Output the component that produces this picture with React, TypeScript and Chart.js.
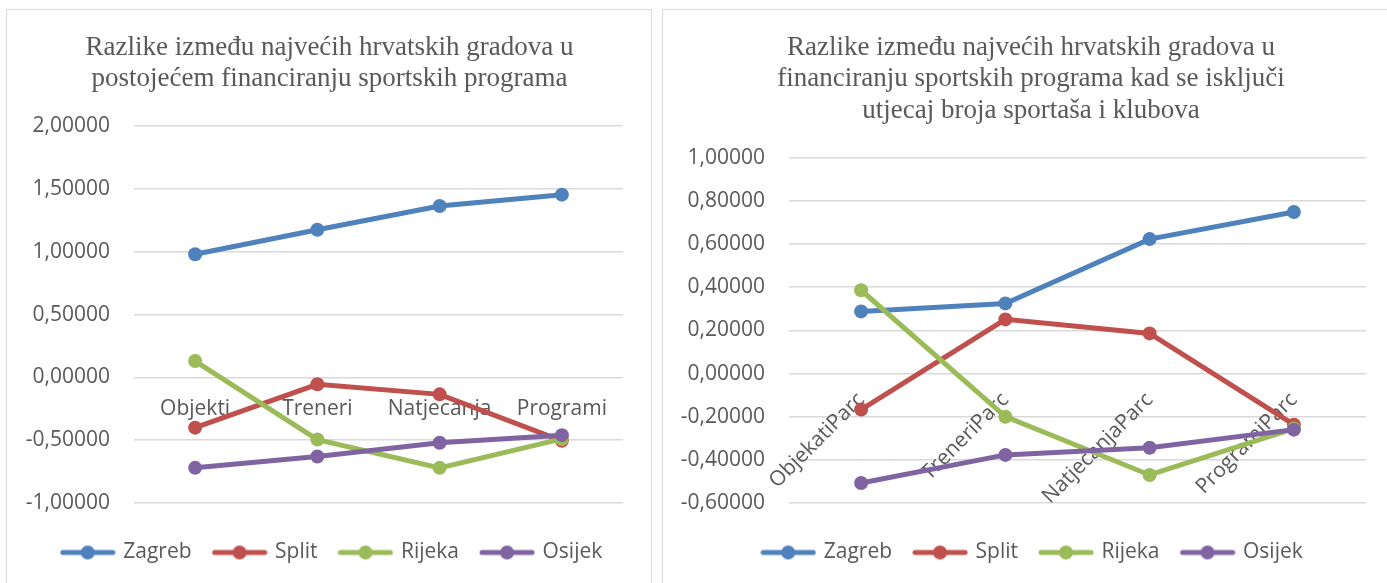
import React, { useEffect, useRef } from "react";
import { Chart, registerables } from "chart.js";

Chart.register(...registerables);

const seriesNames = ["Zagreb", "Split", "Rijeka", "Osijek"];
const seriesColors = ["#4F81BD", "#C0504D", "#9BBB59", "#8064A2"];

const leftCategories = ["Objekti", "Treneri", "Natjecanja", "Programi"];
const leftZagreb = [0.98, 1.175, 1.365, 1.455];
const leftSplit = [-0.4, -0.055, -0.135, -0.505];
const leftRijeka = [0.13, -0.495, -0.72, -0.49];
const leftOsijek = [-0.72, -0.63, -0.52, -0.46];
const leftTitle = [
  "Razlike između najvećih hrvatskih gradova u",
  "postojećem financiranju sportskih programa",
];

const rightCategories = ["ObjekatiParc", "TreneriParc", "NatjecanjaParc", "ProgramiParc"];
const rightZagreb = [0.288, 0.325, 0.623, 0.749];
const rightSplit = [-0.167, 0.251, 0.186, -0.237];
const rightRijeka = [0.386, -0.2, -0.47, -0.255];
const rightOsijek = [-0.507, -0.377, -0.344, -0.26];
const rightTitle = [
  "Razlike između najvećih hrvatskih gradova u",
  "financiranju sportskih programa kad se isključi",
  "utjecaj broja sportaša i klubova",
];

const TEXT = "#595959";
const GRID = "#D9D9D9";
const SANS = "'Open Sans', 'Noto Sans', sans-serif";
const SERIF = "'Liberation Serif', 'DejaVu Serif', serif";
const FS = 21;

function legendIcon(color: string) {
  const c = document.createElement("canvas");
  c.width = 56;
  c.height = 16;
  const ctx = c.getContext("2d")!;
  ctx.strokeStyle = color;
  ctx.lineWidth = 5;
  ctx.lineCap = "round";
  ctx.beginPath();
  ctx.moveTo(3, 8);
  ctx.lineTo(53, 8);
  ctx.stroke();
  ctx.fillStyle = color;
  ctx.beginPath();
  ctx.arc(28, 8, 7, 0, Math.PI * 2);
  ctx.fill();
  return c;
}

function fmt(v: number) {
  const x = Math.abs(v) < 1e-9 ? 0 : v;
  return x.toFixed(5).replace(".", ",");
}

type Cfg = {
  width: number;
  height: number;
  categories: string[];
  series: number[][];
  title: string[];
  min: number;
  max: number;
  step: number;
  yWidth: number;
  padRight: number;
  legendShift: number;
  titleShift: number;
  titleBottom: number;
  rotate: boolean;
};

function LineChart(props: Cfg) {
  const ref = useRef<HTMLCanvasElement>(null);
  useEffect(() => {
    const icons = seriesColors.map(legendIcon);
    const shiftBoxes = {
      id: "shiftBoxes",
      afterLayout(ch: any) {
        if (ch.legend) {
          ch.legend.left += props.legendShift;
          ch.legend.right += props.legendShift;
        }
        if (ch.titleBlock) {
          ch.titleBlock.left += props.titleShift;
          ch.titleBlock.right += props.titleShift;
        }
      },
    };
    const chart = new Chart(ref.current!, {
      type: "line",
      data: {
        labels: props.categories,
        datasets: props.series.map((d, i) => ({
          label: seriesNames[i],
          data: d,
          borderColor: seriesColors[i],
          backgroundColor: seriesColors[i],
          borderWidth: 5,
          pointRadius: 7,
          pointBorderWidth: 0,
          pointHoverRadius: 7,
          tension: 0,
          order: 4 - i,
        })),
      },
      plugins: [shiftBoxes],
      options: {
        responsive: false,
        animation: false,
        devicePixelRatio: 1,
        layout: { padding: { left: 0, right: props.padRight, top: 0, bottom: 10 } },
        scales: {
          x: {
            type: "category",
            position: { y: 0 } as any,
            offset: true,
            grid: { display: false, drawTicks: false },
            border: { display: false },
            ticks: {
              color: TEXT,
              font: { family: SANS, size: FS },
              padding: props.rotate ? 14 : 19,
              autoSkip: false,
              minRotation: props.rotate ? 45 : 0,
              maxRotation: props.rotate ? 45 : 0,
            },
          },
          y: {
            min: props.min,
            max: props.max,
            grid: { color: GRID, lineWidth: 1.5, drawTicks: false },
            border: { display: false },
            ticks: {
              stepSize: props.step,
              color: TEXT,
              font: { family: SANS, size: FS },
              padding: 24,
              callback: (v: any) => fmt(Number(v)),
            },
            afterFit: (s: any) => {
              s.width = props.yWidth;
            },
          },
        },
        plugins: {
          title: {
            display: true,
            text: props.title,
            color: TEXT,
            font: { family: SERIF, size: 27, weight: "normal", lineHeight: 1.17 },
            padding: { top: 22, bottom: props.titleBottom },
          },
          legend: {
            position: "bottom",
            title: { display: true, text: " ", padding: 0, font: { size: 14, lineHeight: 16 / 14 } },
            labels: {
              usePointStyle: true,
              pointStyleWidth: 50,
              padding: 23,
              color: TEXT,
              font: { family: SANS, size: FS },
              sort: (a: any, b: any) => a.datasetIndex - b.datasetIndex,
              generateLabels: (ch: any) => {
                const items = Chart.defaults.plugins.legend.labels.generateLabels(ch);
                items.forEach((it: any) => {
                  it.pointStyle = icons[it.datasetIndex];
                });
                return items;
              },
            },
          },
          tooltip: { enabled: false },
        },
      },
    });
    return () => chart.destroy();
  }, []);
  return <canvas ref={ref} width={props.width} height={props.height} style={{ display: "block" }} />;
}

export default function App() {
  useEffect(() => {
    document.body.style.margin = "0";
    document.body.style.background = "#ffffff";
  }, []);
  return (
    <div style={{ position: "relative", width: 1387, height: 583, overflow: "hidden", background: "#fff" }}>
      <div
        style={{
          position: "absolute",
          left: 6,
          top: 9,
          width: 646,
          height: 600,
          boxSizing: "border-box",
          border: "1.5px solid " + GRID,
        }}
      />
      <div
        style={{
          position: "absolute",
          left: 662,
          top: 9,
          width: 760,
          height: 600,
          boxSizing: "border-box",
          border: "1.5px solid " + GRID,
        }}
      />
      <div style={{ position: "absolute", left: 6, top: 10 }}>
        <LineChart
          width={646}
          height={573}
          categories={leftCategories}
          series={[leftZagreb, leftSplit, leftRijeka, leftOsijek]}
          title={leftTitle}
          min={-1}
          max={2}
          step={0.5}
          yWidth={128}
          padRight={29}
          legendShift={18}
          titleShift={15}
          titleBottom={31}
          rotate={false}
        />
      </div>
      <div style={{ position: "absolute", left: 662, top: 10 }}>
        <LineChart
          width={725}
          height={573}
          categories={rightCategories}
          series={[rightZagreb, rightSplit, rightRijeka, rightOsijek]}
          title={rightTitle}
          min={-0.6}
          max={1.0}
          step={0.2}
          yWidth={127}
          padRight={21}
          legendShift={19}
          titleShift={17}
          titleBottom={31}
          rotate={true}
        />
      </div>
    </div>
  );
}
